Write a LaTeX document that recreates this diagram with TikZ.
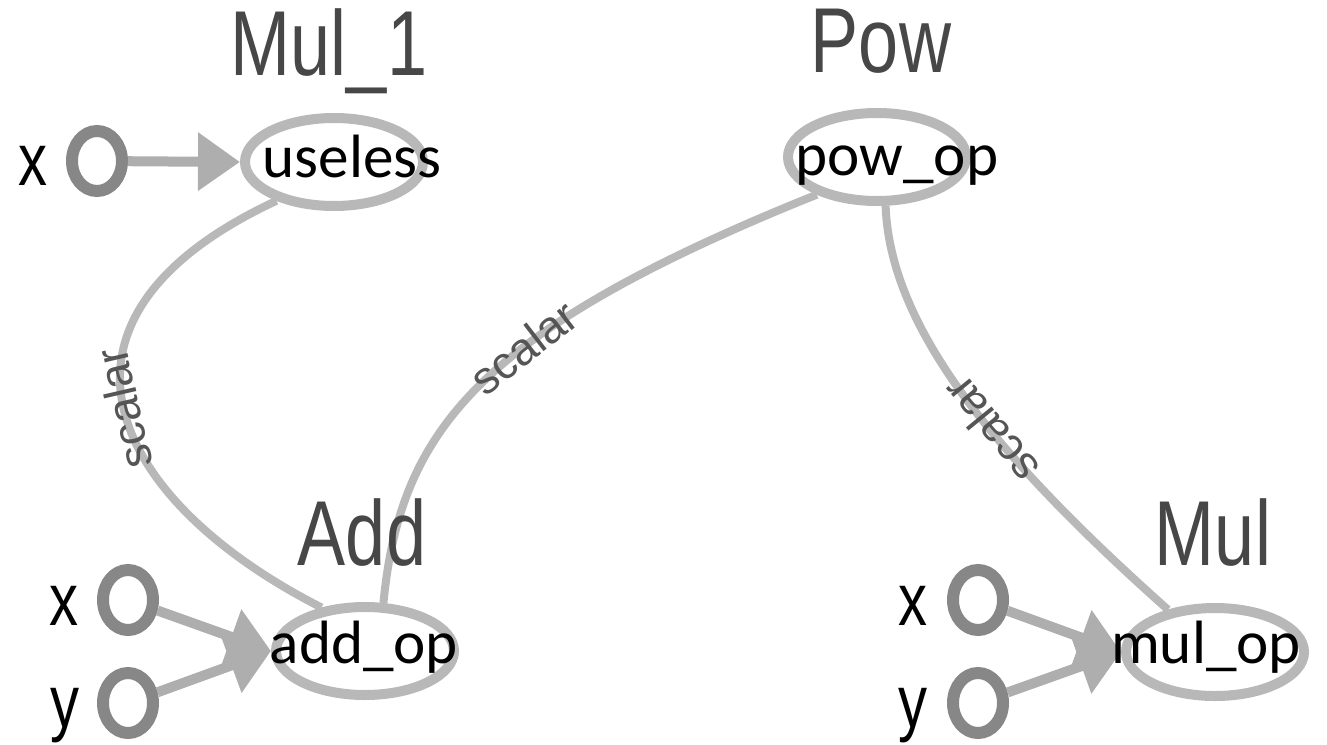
\documentclass[tikz,border=0pt]{standalone}
\usepackage{fontspec}
\setmainfont{Liberation Sans}
\newfontfamily\opfont{Carlito}
\usepackage{tikz}
\usetikzlibrary{arrows.meta,shapes.geometric}
\definecolor{ringgray}{HTML}{878787}
\definecolor{edgegray}{HTML}{B8B8B8}
\definecolor{arrowgray}{HTML}{AEAEAE}
\definecolor{titlegray}{HTML}{474747}
\definecolor{labelgray}{HTML}{555555}
\newcommand\tall[1]{\scalebox{1}[1.28]{#1}}
\tikzset{
	opnode/.style={ellipse, draw=edgegray, line width=1mm, minimum width=17.8mm, minimum height=8.8mm, inner sep=0pt},
	innode/.style={ellipse, draw=ringgray, line width=1.2mm, minimum width=5mm, minimum height=6mm, inner sep=0pt},
	optext/.style={anchor=base, font=\opfont\fontsize{17.4}{20}\selectfont},
	titletext/.style={anchor=base, text=titlegray, font=\fontsize{20.5}{24}\selectfont},
	inlabel/.style={anchor=base, font=\fontsize{16.5}{20}\selectfont},
	inarrow/.style={draw=arrowgray, line width=1mm, -{Triangle[length=4.2mm, width=5.6mm]}},
	scalaredge/.style={draw=edgegray, line width=0.8mm},
	scalarlabel/.style={sloped, allow upside down, text=labelgray, font=\fontsize{13}{15}\selectfont, inner sep=0pt}
}

\begin{document}
\begin{tikzpicture}[x=0.1mm, y=-0.1mm]
			%%%%% START %%%%%
			\useasboundingbox (0,0) rectangle (1327,744);
			
			\node[opnode] (useless) at (334,162) {};
			\node[opnode] (pow) at (877,157) {};
			\node[opnode] (add) at (365,651) {};
			\node[opnode] (mul) at (1215,652) {};
			
			\node[innode] (mulonex) at (97,161) {};
			\node[innode] (addx) at (128,600) {};
			\node[innode] (addy) at (128,703) {};
			\node[innode] (mulx) at (978,600) {};
			\node[innode] (muly) at (978,703) {};
			
			\draw[inarrow] (mulonex) -- (useless.west);
			\draw[inarrow] (addx) -- (add.west);
			\draw[inarrow] (addy) -- (add.west);
			\draw[inarrow] (mulx) -- (mul.west);
			\draw[inarrow] (muly) -- (mul.west);
			
			\draw[scalaredge] (add.135) .. controls (110,500) and (20,320) .. (useless.214) node[scalarlabel, pos=0.5] (scalarone) {scalar};
			\draw[scalaredge] (add.69) .. controls (400,430) and (480,330) .. (pow.212) node[scalarlabel, pos=0.6] (scalartwo) {scalar};
			\draw[scalaredge] (mul.138) .. controls (1000,460) and (890,330) .. (pow.280) node[scalarlabel, pos=0.42] (scalarthree) {scalar};
			
			\node[titletext] (mulonetitle) at (329,75) {\tall{Mul\_1}};
			\node[titletext] (powtitle) at (881,73) {\tall{Pow}};
			\node[titletext] (addtitle) at (362,565) {\tall{Add}};
			\node[titletext] (multitle) at (1213,565) {\tall{Mul}};
			
			\node[optext] (uselesstext) at (352,177) {useless};
			\node[optext] (powtext) at (897,175) {pow\_op};
			\node[optext] (addtext) at (364,663) {add\_op};
			\node[optext] (multext) at (1206,663) {mul\_op};
			
			\node[inlabel] (mulonexlabel) at (33,185) {\tall{x}};
			\node[inlabel] (addxlabel) at (64,625) {\tall{x}};
			\node[inlabel] (addylabel) at (65,727) {\tall{y}};
			\node[inlabel] (mulxlabel) at (913,625) {\tall{x}};
			\node[inlabel] (mulylabel) at (913,727) {\tall{y}};
			%%%%% END %%%%%
\end{tikzpicture}
\end{document}
